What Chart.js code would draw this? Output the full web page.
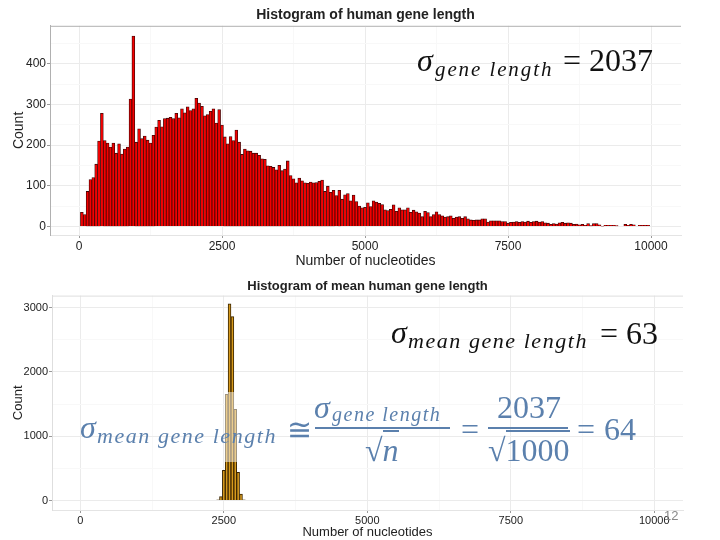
<!DOCTYPE html>
<html>
<head>
<meta charset="utf-8">
<script src="https://cdn.jsdelivr.net/npm/chart.js@4"></script>
<style>
  html, body { margin: 0; padding: 0; background: #fff; }
  #page { position: relative; width: 720px; height: 540px; overflow: hidden; }
  canvas { position: absolute; left: 0; }
  .m { position: absolute; white-space: nowrap; line-height: 1; font-family: "Liberation Serif", serif; color: #111; }
  .blue { color: #5b80ad; }
  .sub { font-style: italic; letter-spacing: 1.55px; }
  .bar { position: absolute; height: 2px; background: #5b80ad; }
  .root { border-top: 2px solid #5b80ad; }
</style>
</head>
<body>
<div id="page">
  <canvas id="geneChart" width="720" height="270" style="top:0"></canvas>
  <canvas id="meanChart" width="720" height="270" style="top:270px"></canvas>

  <!-- 図の上に貼られた白い半透明の帯 -->
  <div style="position:absolute;left:225px;top:392px;width:12px;height:70px;background:rgba(255,255,255,.5)"></div>

  <span class="m" style="left:417px;top:44px;font-size:32px;font-style:italic">σ</span>
  <span class="m sub" style="left:435px;top:59px;font-size:21px;letter-spacing:1.9px">gene length</span>
  <span class="m" style="left:563px;top:44px;font-size:32px">= 2037</span>

  <span class="m" style="left:391px;top:316px;font-size:32px;font-style:italic">σ</span>
  <span class="m sub" style="left:408px;top:330px;font-size:22px">mean gene length</span>
  <span class="m" style="left:600px;top:317px;font-size:32px">= 63</span>

  <span class="m blue" style="left:80px;top:411px;font-size:32px;font-style:italic">σ</span>
  <span class="m blue sub" style="left:97px;top:425px;font-size:22px">mean gene length</span>
  <span class="m blue" style="left:287px;top:415px;font-size:30px">≅</span>
  <span class="m blue" style="left:314px;top:391px;font-size:32px;font-style:italic">σ</span>
  <span class="m blue sub" style="left:332px;top:404px;font-size:20px;letter-spacing:1.5px">gene length</span>
  <div class="bar" style="left:315px;top:427px;width:135px"></div>
  <span class="m blue" style="left:365px;top:434px;font-size:32px">√<span class="root" style="font-style:italic">n</span></span>
  <span class="m blue" style="left:461px;top:413px;font-size:32px">=</span>
  <span class="m blue" style="left:497px;top:391px;font-size:32px">2037</span>
  <div class="bar" style="left:488px;top:427px;width:80px"></div>
  <span class="m blue" style="left:488px;top:434px;font-size:32px">√<span class="root">1000</span></span>
  <span class="m blue" style="left:577px;top:413px;font-size:32px">=</span>
  <span class="m blue" style="left:604px;top:413px;font-size:32px">64</span>

  <span class="m" style="left:664px;top:509px;font-size:13px;font-family:'Liberation Sans';color:#888">12</span>
</div>

<script>
// ヒストグラムのデータ
const geneBinWidth = 50;
const geneCounts = [
  35,29,86,115,120,153,210,278,211,205,
  195,205,180,203,178,190,195,313,468,207,
  240,216,222,212,205,224,244,261,245,265,
  266,268,265,278,267,289,279,294,285,289,
  315,303,295,272,275,283,289,254,287,249,
  220,203,221,211,237,207,177,190,186,185,
  180,180,175,166,165,149,148,145,139,150,
  137,141,161,125,117,107,119,112,107,106,
  109,107,108,111,114,86,99,84,89,76,
  89,67,78,81,63,77,61,50,46,47,
  58,49,63,60,57,54,41,39,42,53,
  37,46,41,41,46,35,40,36,33,24,
  37,34,24,29,36,29,26,23,24,26,
  20,23,24,20,24,19,16,15,16,16,
  19,19,11,14,14,14,14,12,12,8,
  10,11,12,10,12,11,13,10,12,13,
  11,12,9,8,5,7,6,9,10,8,
  9,8,5,6,4,5,3,7,2,7,
  7,4,1,3,3,3,3,2,0,0,
  5,3,5,4,0,3,3,3,3,0
];
const meanBins = [2400,2450,2500,2550,2600,2650,2700,2750,2800,2850];
const meanCounts = [10,62,469,1651,3057,2859,1417,438,99,10];

const xTicks = [0,2500,5000,7500,10000];
const xMinor = [1250,3750,6250,8750];
const geneYTicks = [0,100,200,300,400];
const geneYMinor = [50,150,250,350,450];
const meanYTicks = [0,1000,2000,3000];
const meanYMinor = [500,1500,2500];

// パネル上端の線 (Chart.jsの軸には無いので自前で引く)
const topBorder = {
  id: 'topBorder',
  afterDraw: function(chart, args, opts) {
    const a = chart.chartArea, c = chart.ctx;
    c.save();
    c.strokeStyle = opts.color;
    c.beginPath();
    c.moveTo(a.left, a.top + 0.5);
    c.lineTo(a.right, a.top + 0.5);
    c.stroke();
    c.restore();
  }
};

// 主目盛りと補助目盛りの線を引く軸を作る
function makeAxis(min, max, major, minor, titleText, size, cfg, borderColor) {
  return {
    min: min,
    max: max,
    afterBuildTicks: function(axis) {
      axis.ticks = major.concat(minor).sort(function(a, b) { return a - b; }).map(function(v) { return { value: v }; });
    },
    afterFit: function(axis) {
      if (axis.isHorizontal()) axis.height = size; else axis.width = size;
    },
    ticks: {
      autoSkip: false,
      maxRotation: 0,
      color: '#222',
      font: { family: 'Liberation Sans', size: cfg.tickSize },
      padding: 1,
      callback: function(v) { return major.includes(v) ? String(v) : ''; }
    },
    grid: {
      offset: false, // 棒グラフの既定ではずれるので切る
      tickLength: 3,
      color: function(c) { return c.tick && major.includes(c.tick.value) ? '#ebebeb' : '#f8f8f8'; },
      tickColor: function(c) { return c.tick && major.includes(c.tick.value) ? '#999' : 'rgba(0,0,0,0)'; }
    },
    border: { color: borderColor },
    title: { display: true, text: titleText, color: '#222', font: { family: 'Liberation Sans', size: cfg.labelSize }, padding: { top: cfg.labelGap, bottom: 0 } }
  };
}

function makeChart(id, points, titleText, cfg) {
  new Chart(document.getElementById(id).getContext('2d'), {
    type: 'bar',
    data: {
      datasets: [{
        data: points,
        backgroundColor: cfg.fill,
        borderColor: cfg.edge,
        borderWidth: cfg.edgeWidth,
        barPercentage: 1,
        categoryPercentage: 1
      }]
    },
    plugins: [topBorder],
    options: {
      responsive: false,
      animation: false,
      layout: { padding: cfg.pad },
      plugins: {
        legend: { display: false },
        tooltip: { enabled: false },
        topBorder: { color: cfg.frame },
        title: {
          display: true,
          fullSize: false,
          text: titleText,
          color: '#222',
          font: { family: 'Liberation Sans', size: cfg.titleSize, weight: 'bold' },
          padding: cfg.titlePad
        }
      },
      scales: {
        x: Object.assign(makeAxis(cfg.xRange[0], cfg.xRange[1], xTicks, xMinor, 'Number of nucleotides', cfg.xh, cfg, '#e4e4e4'), { type: 'linear', offset: false }),
        y: makeAxis(cfg.yRange[0], cfg.yRange[1], cfg.yMajor, cfg.yMinor, 'Count', cfg.yw, cfg, cfg.frame)
      }
    }
  });
}

const genePoints = geneCounts.map(function(c, i) { return { x: (i + 1) * geneBinWidth, y: c }; });
const meanPoints = meanCounts.map(function(c, i) { return { x: meanBins[i], y: c }; });

makeChart('geneChart', genePoints, 'Histogram of human gene length', {
  fill: '#f40000', edge: '#3e0606', edgeWidth: 0.8, frame: '#b0b0b0',
  xRange: [-507, 10524], yRange: [-21, 493], yMajor: geneYTicks, yMinor: geneYMinor,
  yw: 41, xh: 35, tickSize: 12, labelSize: 14, titleSize: 14, labelGap: 2,
  pad: { left: 9, right: 39, top: 7, bottom: 0 }, titlePad: { top: 0, bottom: 2 }
});
makeChart('meanChart', meanPoints, 'Histogram of mean human gene length', {
  fill: '#d79a1c', edge: '#3a2500', edgeWidth: 1, frame: '#dedede',
  xRange: [-493, 10500], yRange: [-147, 3186], yMajor: meanYTicks, yMinor: meanYMinor,
  yw: 45, xh: 30, tickSize: 11, labelSize: 13, titleSize: 13, labelGap: 4,
  pad: { left: 7, right: 37, top: 9, bottom: 0 }, titlePad: { top: 0, bottom: 1 }
});
</script>
</body>
</html>
